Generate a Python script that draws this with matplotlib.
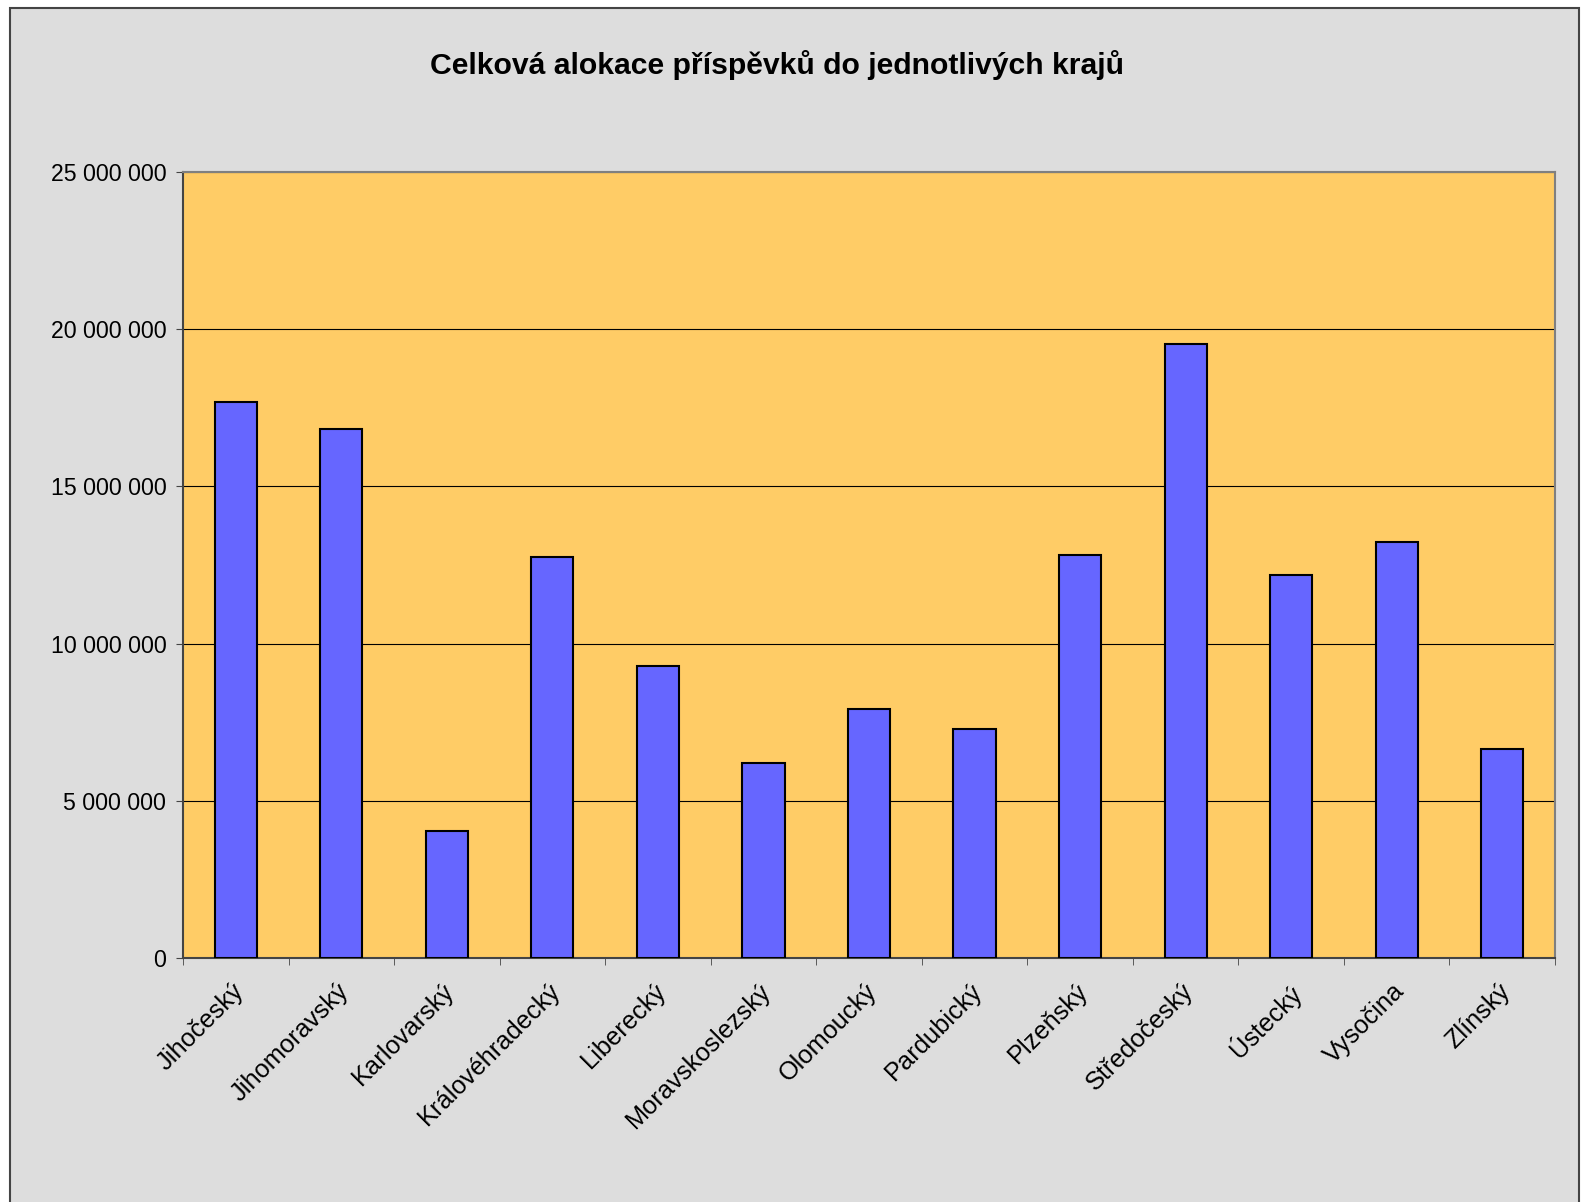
import numpy as np
import matplotlib.pyplot as plt
from matplotlib.patches import Rectangle
from matplotlib.ticker import FuncFormatter, MultipleLocator

plt.rcParams['font.family'] = ['Liberation Sans', 'DejaVu Sans']

kraje = ['Jihočeský', 'Jihomoravský', 'Karlovarský', 'Královéhradecký',
         'Liberecký', 'Moravskoslezský', 'Olomoucký', 'Pardubický',
         'Plzeňský', 'Středočeský', 'Ústecký', 'Vysočina', 'Zlínský']
alokace = [17700000, 16830000, 4050000, 12740000, 9300000, 6210000,
           7920000, 7270000, 12810000, 19530000, 12190000, 13220000, 6660000]

W, H = 1588, 1202
fig = plt.figure(figsize=(W / 100, H / 100), dpi=100)
fig.patch.set_facecolor('white')

# grey chart area with thin dark frame
fig.patches.append(Rectangle((10 / W, -0.02), (1579 - 10) / W, (H - 8) / H + 0.02,
                             transform=fig.transFigure, facecolor='#DDDDDD',
                             edgecolor='#444444', linewidth=1.5, zorder=-5))

ax = fig.add_axes([183 / W, 1 - 958 / H, (1555 - 183) / W, (958 - 172) / H])
ax.set_facecolor('#FFCC66')

x = np.arange(len(kraje))
ax.bar(x, alokace, width=0.4, color='#6666FF', edgecolor='black', linewidth=1.5, zorder=3)

ax.set_xlim(-0.5, len(kraje) - 0.5)
ax.set_ylim(0, 25000000)
ax.yaxis.set_major_locator(MultipleLocator(5000000))
ax.yaxis.set_major_formatter(FuncFormatter(lambda v, p: f'{int(v):,}'.replace(',', ' ')))
ax.grid(axis='y', color='black', linewidth=0.8, zorder=1)

ax.set_xticks(x - 0.04)
ax.set_xticklabels(kraje, rotation=45, ha='right', rotation_mode='anchor', fontsize=18.3)
ax.tick_params(axis='x', which='major', length=0, pad=15)
ax.set_xticks(np.arange(-0.5, len(kraje)), minor=True)
ax.tick_params(axis='x', which='minor', length=5, color='#444444', direction='out')
ax.tick_params(axis='y', labelsize=16.7, length=5, color='#444444', pad=7)

for s in ax.spines.values():
    s.set_color('#808080')
    s.set_linewidth(1.5)
ax.spines['left'].set_color('#444444')
ax.spines['bottom'].set_color('#444444')

fig.text(777 / W, 1 - 65 / H, 'Celková alokace příspěvků do jednotlivých krajů',
         ha='center', va='center', fontsize=21.7, fontweight='bold')

fig.savefig('out.png', dpi=100, facecolor=fig.get_facecolor())
